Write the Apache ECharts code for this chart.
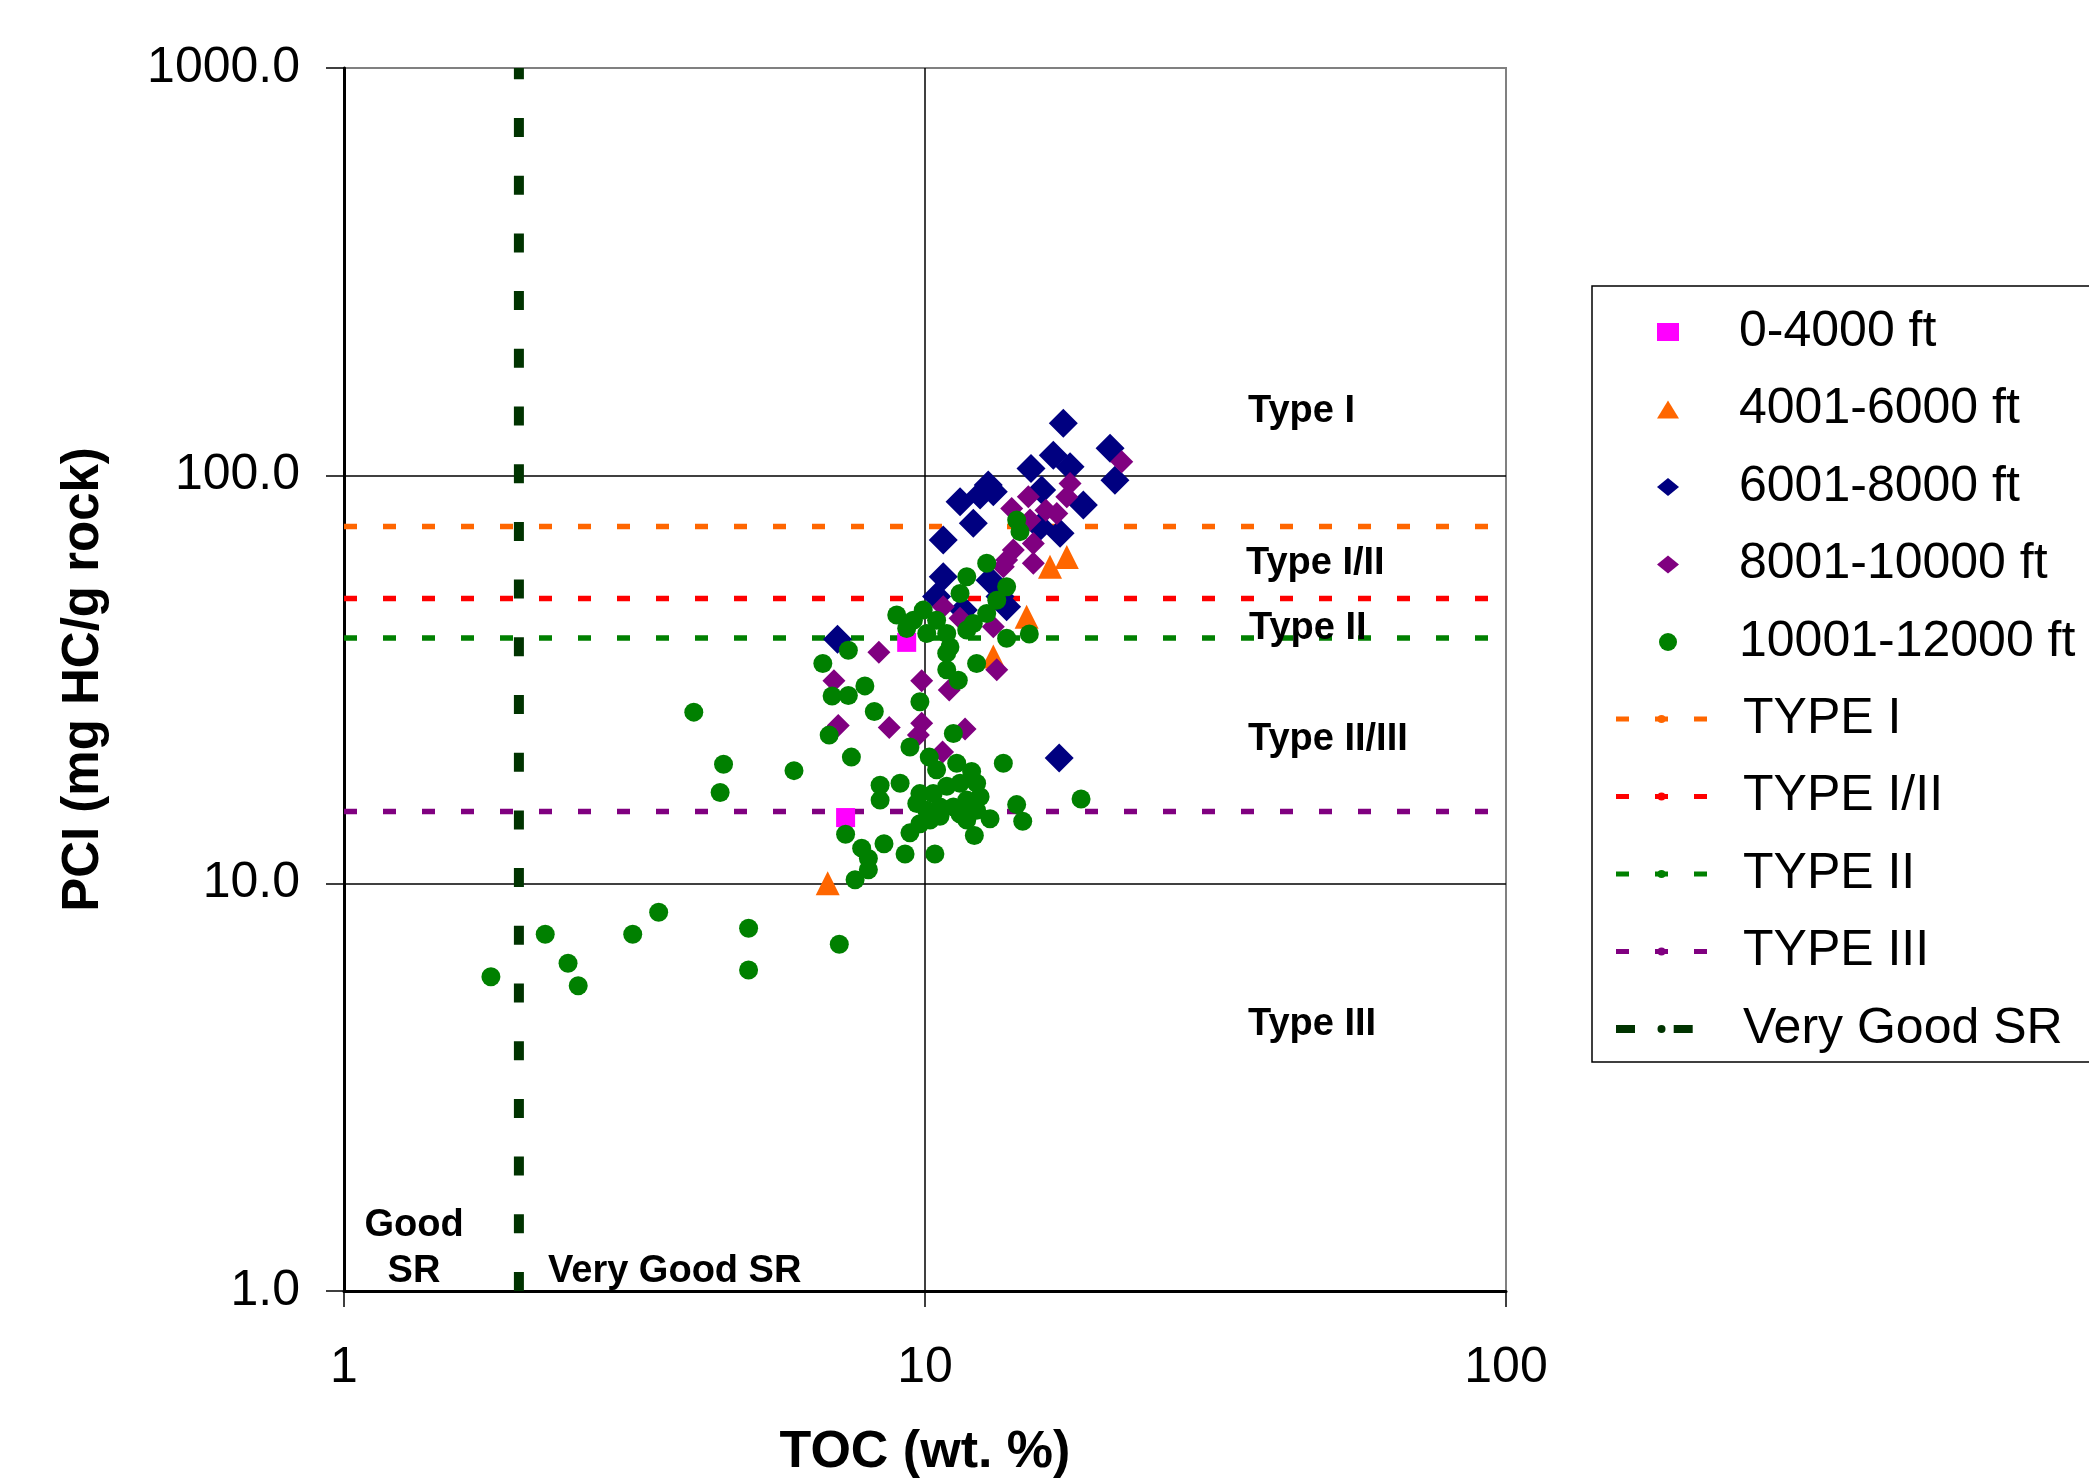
<!DOCTYPE html>
<html>
<head>
<meta charset="utf-8">
<title>PCI vs TOC</title>
<script src="https://cdn.jsdelivr.net/npm/echarts@6/dist/echarts.min.js"></script>
<style>
html, body { margin: 0; padding: 0; background: #ffffff; }
#chart { width: 2089px; height: 1479px; }
</style>
</head>
<body>
<div id="chart"></div>
<script>
// ---------- DATA (TOC wt.% , PCI mg HC/g rock) ----------
const scatterNames = ['0-4000 ft', '4001-6000 ft', '6001-8000 ft', '8001-10000 ft', '10001-12000 ft'];
const lineNames = ['TYPE I', 'TYPE I/II', 'TYPE II', 'TYPE III', 'Very Good SR'];

const depth0to4000 = [[7.30, 14.5], [9.30, 39.0]];

const depth4001to6000 = [[6.80, 10.0], [13.11, 36.0], [14.96, 45.1], [16.41, 59.8], [17.54, 63.2]];

const depth6001to8000 = [
  [17.30, 134.4], [20.82, 116.7], [16.63, 112.3], [17.77, 105.1], [21.23, 97.5], [15.22, 104.2],
  [12.85, 94.8], [12.44, 89.6], [11.49, 86.3], [13.11, 91.3], [15.88, 92.2], [18.73, 84.7],
  [12.11, 76.4], [10.75, 69.5], [17.08, 72.2], [15.77, 74.9], [10.75, 56.5], [12.94, 55.4],
  [13.46, 50.5], [13.82, 47.7], [11.64, 46.8], [10.47, 50.5], [7.07, 39.7], [17.02, 20.3]
];

const depth8001to10000 = [
  [21.81, 108.2], [17.77, 95.7], [17.54, 88.8], [16.86, 80.8], [15.06, 88.8], [14.10, 83.1],
  [15.16, 77.8], [15.36, 68.2], [14.19, 65.7], [13.82, 62.1], [15.36, 61.0], [13.64, 59.8],
  [16.15, 82.3], [10.75, 47.7], [11.49, 44.7], [13.11, 42.6], [8.33, 36.9], [13.29, 33.4],
  [6.97, 31.4], [9.87, 31.4], [11.01, 29.8], [7.09, 24.4], [8.68, 24.1], [9.87, 24.7],
  [9.74, 23.1], [11.72, 23.9], [10.72, 21.0]
];

const depth10001to12000 = [
  [4.00, 26.3], [4.50, 19.6], [4.44, 16.7], [5.95, 18.9], [6.67, 34.6], [6.92, 28.8], [7.38, 28.9],
  [6.84, 23.1], [7.47, 20.4], [7.30, 13.2], [7.58, 10.2], [7.12, 7.09], [3.48, 8.49], [3.14, 7.50],
  [2.22, 7.50], [2.43, 6.37], [2.53, 5.61], [1.79, 5.90], [4.97, 7.76], [4.97, 6.13],
  [7.38, 37.3], [13.82, 39.9], [15.12, 40.9], [12.27, 34.6], [10.90, 33.4], [11.41, 31.5],
  [7.88, 30.5], [9.80, 27.9], [8.18, 26.4], [11.19, 23.3], [9.42, 21.6], [10.17, 20.4],
  [13.64, 19.7], [8.37, 17.4], [8.37, 16.0], [9.06, 17.6], [18.56, 16.1], [14.38, 15.6],
  [14.73, 14.2], [12.94, 14.4], [12.16, 13.1], [10.40, 11.8], [8.50, 12.5], [9.24, 11.8],
  [9.42, 13.3], [7.78, 12.2], [7.99, 11.5], [7.99, 10.8],
  [10.47, 19.0], [11.34, 19.7], [12.03, 18.8], [12.27, 17.6], [11.49, 17.6], [10.90, 17.3],
  [10.33, 16.6], [9.80, 16.6], [9.68, 15.7], [10.07, 15.1], [10.61, 15.4], [11.19, 15.4],
  [11.80, 16.0], [12.44, 16.3], [10.20, 14.3], [9.80, 14.0], [10.61, 14.6], [11.49, 14.8],
  [11.80, 14.3], [12.27, 15.1],
  [14.38, 77.8], [14.57, 72.9], [12.77, 61.0], [11.80, 56.5], [11.49, 51.4], [13.82, 53.4],
  [13.29, 49.5], [12.77, 45.9], [12.11, 43.4], [11.80, 41.8], [9.93, 46.8], [8.94, 45.5],
  [9.30, 42.2], [10.47, 44.2], [10.90, 41.0], [11.04, 38.0], [10.90, 36.7], [10.07, 41.0],
  [9.55, 44.2]
];

// threshold lines
const typeI = [[1, 75], [100, 75]];
const typeIandII = [[1, 50], [100, 50]];
const typeII = [[1, 40], [100, 40]];
const typeIII = [[1, 15], [100, 15]];
const veryGoodSR = [[2, 1], [2, 1000]];

// ---------- CHART ----------
const FONT = '"Liberation Sans", Arial, sans-serif';
const chart = echarts.init(document.getElementById('chart'), null, { renderer: 'canvas' });

function scatter(name, data, symbol, size, color) {
  return {
    name, type: 'scatter', data, symbol, symbolSize: size, z: 3,
    itemStyle: { color: color, opacity: 1 },
    emphasis: { disabled: true }, silent: true
  };
}
function hline(name, data, color, width, dash) {
  return {
    name, type: 'line', data, symbol: 'none', z: 2, silent: true,
    lineStyle: { color: color, width: width, type: dash },
    itemStyle: { color: color },
    emphasis: { disabled: true }
  };
}

const annot = (text, x, y, align) => ({
  type: 'text', x: x, y: y, z: 10, silent: true,
  style: { text: text, fontSize: 38, fontWeight: 'bold', fontFamily: FONT, fill: '#000',
    align: align || 'left', verticalAlign: 'middle', lineHeight: 46 }
});

const legendText = (pad) => ({ fontSize: 50, lineHeight: 56, color: '#000', fontFamily: FONT, padding: [0, 0, 0, pad] });

const option = {
  backgroundColor: '#ffffff',
  animation: false,
  grid: {
    left: 344, top: 68, width: 1162, height: 1223,
    outerBoundsMode: 'none', containLabel: false,
    show: true, borderColor: '#808080', borderWidth: 2, backgroundColor: 'transparent'
  },
  xAxis: {
    type: 'log', logBase: 10, min: 1, max: 100,
    name: 'TOC (wt. %)', nameLocation: 'middle', nameGap: 136,
    nameTextStyle: { fontSize: 52, fontWeight: 'bold', color: '#000', fontFamily: FONT },
    axisLine: { show: true, onZero: false, lineStyle: { color: '#000', width: 3 } },
    axisTick: { show: true, length: 16, inside: false, lineStyle: { color: '#000', width: 1.5 } },
    minorTick: { show: false },
    axisLabel: { fontSize: 50, color: '#000', fontFamily: FONT, margin: 52,
      formatter: v => String(Math.round(v)) },
    splitLine: { show: true, showMinLine: false, showMaxLine: false, lineStyle: { color: '#000', width: 1.5 } }
  },
  yAxis: {
    type: 'log', logBase: 10, min: 1, max: 1000,
    name: 'PCI (mg HC/g rock)', nameLocation: 'middle', nameRotate: 90, nameGap: 235,
    nameTextStyle: { fontSize: 51, fontWeight: 'bold', color: '#000', fontFamily: FONT },
    axisLine: { show: true, onZero: false, lineStyle: { color: '#000', width: 3 } },
    axisTick: { show: true, length: 18, inside: false, lineStyle: { color: '#000', width: 1.5 } },
    minorTick: { show: false },
    axisLabel: { fontSize: 50, color: '#000', fontFamily: FONT, margin: 44,
      formatter: v => Number(v).toFixed(1) },
    splitLine: { show: true, showMinLine: false, showMaxLine: false, lineStyle: { color: '#000', width: 1.5 } }
  },
  legend: [
    {
      show: true, orient: 'vertical', left: 1657, top: 304, padding: 0,
      itemWidth: 22, itemHeight: 18, itemGap: 21.5, selectedMode: false,
      symbolKeepAspect: false,
      textStyle: legendText(55),
      data: scatterNames
    },
    {
      show: true, orient: 'vertical', left: 1612, top: 691, padding: 0,
      itemWidth: 91, itemHeight: 10, itemGap: 21.5, selectedMode: false,
      textStyle: legendText(31),
      lineStyle: { width: 'inherit' },
      data: [
        { name: lineNames[0], lineStyle: { width: 5 } },
        { name: lineNames[1], lineStyle: { width: 5 } },
        { name: lineNames[2], lineStyle: { width: 5 } },
        { name: lineNames[3], lineStyle: { width: 5 } },
        { name: lineNames[4], lineStyle: { width: 8 } }
      ]
    }
  ],
  graphic: [
    {
      type: 'rect', z: 0, silent: true,
      shape: { x: 1592, y: 286, width: 520, height: 776 },
      style: { fill: 'none', stroke: '#000', lineWidth: 1.5 }
    },
    annot('Type I', 1248, 412),
    annot('Type I/II', 1246, 564),
    annot('Type II', 1249, 629),
    annot('Type II/III', 1248, 740),
    annot('Type III', 1248, 1025),
    annot('Good\nSR', 414, 1249, 'center'),
    annot('Very Good SR', 548, 1272)
  ],
  series: [
    scatter(scatterNames[0], depth0to4000, 'rect', 19, '#FF00FF'),
    scatter(scatterNames[1], depth4001to6000, 'triangle', 24, '#FF6600'),
    scatter(scatterNames[2], depth6001to8000, 'diamond', 29, '#000080'),
    scatter(scatterNames[3], depth8001to10000, 'diamond', 23, '#800080'),
    scatter(scatterNames[4], depth10001to12000, 'circle', 19, '#008000'),
    hline(lineNames[0], typeI, '#FF6600', 5.5, [13, 26]),
    hline(lineNames[1], typeIandII, '#FF0000', 5.5, [13, 26]),
    hline(lineNames[2], typeII, '#008000', 5.5, [13, 26]),
    hline(lineNames[3], typeIII, '#800080', 5.5, [13, 26]),
    hline(lineNames[4], veryGoodSR, '#003300', 10, [19, 38.7])
  ]
};
chart.setOption(option);
</script>
</body>
</html>
